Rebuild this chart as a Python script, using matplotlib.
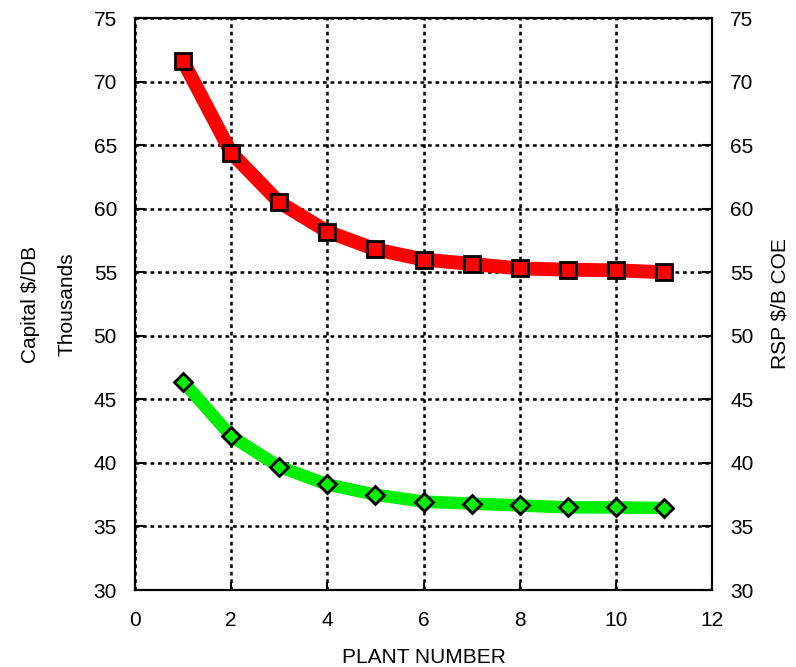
import matplotlib.pyplot as plt

plt.rcParams["font.family"] = ["Liberation Sans", "DejaVu Sans"]

plant = [1, 2, 3, 4, 5, 6, 7, 8, 9, 10, 11]
capital = [71.6, 64.4, 60.5, 58.2, 56.8, 56.0, 55.65, 55.3, 55.2, 55.15, 55.0]
rsp = [46.4, 42.1, 39.7, 38.3, 37.5, 36.95, 36.8, 36.65, 36.5, 36.5, 36.45]

x_ticks = [0, 2, 4, 6, 8, 10, 12]
y_ticks = [30, 35, 40, 45, 50, 55, 60, 65, 70, 75]

fig = plt.figure(figsize=(7.96, 6.67), dpi=100)
ax = fig.add_axes([135 / 796, 1 - 590 / 667, 577 / 796, 572 / 667])
ax2 = ax.twinx()

ax.plot(plant, capital, color="#ff0000", lw=10, solid_capstyle="butt", zorder=3)
ax.plot(plant, capital, ls="none", marker="s", ms=11, mfc="#ff0000",
        mec="black", mew=2, zorder=4)
ax2.plot(plant, rsp, color="#00ee00", lw=9, solid_capstyle="butt", zorder=3)
ax2.plot(plant, rsp, ls="none", marker="D", ms=9, mfc="#00ee00",
         mec="black", mew=2, zorder=4)

for a in (ax, ax2):
    a.set_ylim(30, 75)
    a.set_yticks(y_ticks)
    a.tick_params(direction="in", length=7, width=1.5, labelsize=15, pad=13)
    for s in a.spines.values():
        s.set_linewidth(1.5)

ax.set_xlim(0, 12)
ax.set_xticks(x_ticks)
ax.tick_params(axis="x", top=False, length=5, pad=15)
ax.grid(True, color="black", ls=(0, (1.5, 1.5)), lw=1.8)
ax.set_axisbelow(True)

ax.set_xlabel("PLANT NUMBER", fontsize=15, labelpad=13)
ax.set_ylabel("Capital $/DB\nThousands", fontsize=15, labelpad=12, linespacing=2.2)
ax2.set_ylabel("RSP $/B COE", fontsize=15, labelpad=12)

fig.savefig("out.png", dpi=100)
